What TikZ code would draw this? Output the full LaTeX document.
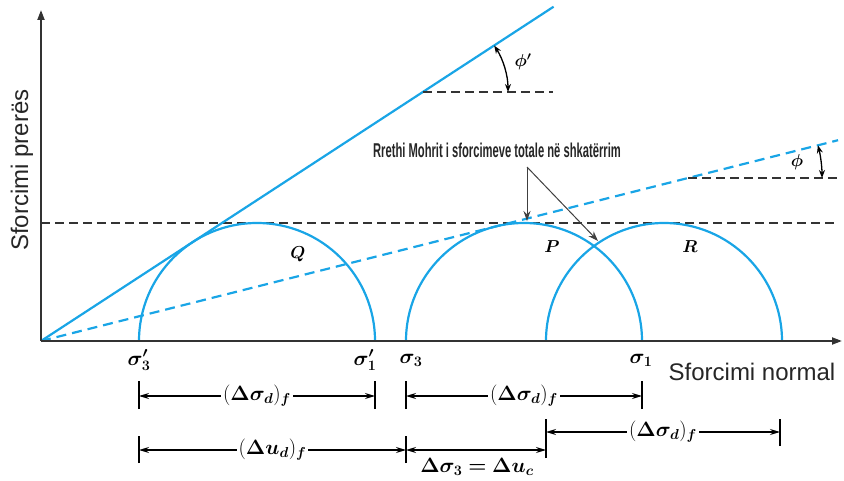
\documentclass[tikz,border=0pt]{standalone}
\usepackage{fontspec}
\setmainfont{Liberation Serif}
\newfontfamily\axisfont{Liberation Sans}
\usepackage{amsmath,bm,graphicx}
\usetikzlibrary{arrows.meta,calc}
\definecolor{mblue}{RGB}{25,165,230}
\definecolor{axisgray}{RGB}{50,50,50}
\begin{document}
\begin{tikzpicture}[x=1pt,y=1pt,
  axisline/.style={draw=axisgray,line width=2pt,-{Triangle[length=10pt,width=7pt]}},
  blackdash/.style={draw=black!80,line width=1.6pt,dash pattern=on 9pt off 5pt},
  bluesolid/.style={draw=mblue,line width=2.2pt},
  bluedash/.style={draw=mblue,line width=2.2pt,dash pattern=on 10pt off 6pt},
  mohr/.style={draw=mblue,line width=2.2pt},
  angarrow/.style={draw=black,line width=1.3pt,{Stealth[length=8pt,width=6pt]}-{Stealth[length=8pt,width=6pt]}},
  callout/.style={draw=black!75,line width=1pt,-{Stealth[length=10pt,width=7pt]}},
  dimline/.style={draw=black,line width=1.3pt,{Stealth[length=10pt,width=6pt]}-{Stealth[length=10pt,width=6pt]}},
  dimtick/.style={draw=black,line width=1.3pt},
  dimlabel/.style={fill=white,inner sep=2pt,font=\fontsize{20}{22}\selectfont},
  siglabel/.style={font=\fontsize{20}{22}\selectfont},
  circlabel/.style={font=\fontsize{18}{20}\selectfont},
  axlabel/.style={font=\axisfont\fontsize{24}{28}\selectfont,text=black!85}
]
\useasboundingbox (0,0) rectangle (844,480);
% axes
\coordinate (O) at (41,139);
\coordinate (Ytop) at (41,470);
\coordinate (Xend) at (842,139);
% dashed horizontal at circle tops
\coordinate (H1) at (41,257);
\coordinate (H2) at (838,257);
\draw[blackdash] (H1) -- (H2);
% Mohr circles
\coordinate (Q0) at (139,139);
\coordinate (P0) at (406,139);
\coordinate (R0) at (546,139);
\draw[mohr] (Q0) arc[start angle=180,end angle=0,radius=118];
\draw[mohr] (P0) arc[start angle=180,end angle=0,radius=118];
\draw[mohr] (R0) arc[start angle=180,end angle=0,radius=118];
% envelopes
\coordinate (Send) at ($(O)+(33.11:612)$);
\coordinate (Dend) at ($(O)+(14.14:822)$);
\draw[bluesolid] (O) -- (Send);
\draw[bluedash] (O) -- (Dend);
\draw[axisline] (O) -- (Ytop);
\draw[axisline] (O) -- (Xend);
% phi' angle
\coordinate (A1) at (423,388);
\coordinate (A1e) at (553,388);
\draw[blackdash] (A1) -- (A1e);
\draw[angarrow] ($(A1)+(0:85)$) arc[start angle=0,end angle=33.11,radius=85];
\node[circlabel] (phip) at (523,418) {$\bm{\phi'}$};
% phi angle
\coordinate (A2) at (688,302);
\coordinate (A2e) at (838,302);
\draw[blackdash] (A2) -- (A2e);
\draw[angarrow] ($(A2)+(0:134)$) arc[start angle=0,end angle=14.14,radius=134];
\node[circlabel] (phi) at (797,318) {$\bm{\phi}$};
% circle labels
\node[circlabel] (Q) at (298,226) {$\bm{Q}$};
\node[circlabel] (P) at (552,233) {$\bm{P}$};
\node[circlabel] (R) at (690,233) {$\bm{R}$};
% callout
\node[font=\axisfont\bfseries\fontsize{20}{22}\selectfont,text=black!85] (mohrtext) at (497,330)
  {\scalebox{0.56}[1]{Rrethi Mohrit i sforcimeve totale në shkatërrim}};
\coordinate (C0) at (527,313);
\coordinate (C1) at (527,259);
\coordinate (C2) at (598,239);
\draw[callout] (C0) -- (C1);
\draw[callout] (C0) -- (C2);
% sigma labels
\node[siglabel] (s3p) at (139,120) {$\bm{\sigma'_3}$};
\node[siglabel] (s1p) at (365,120) {$\bm{\sigma'_1}$};
\node[siglabel] (s3) at (411,120) {$\bm{\sigma_3}$};
\node[siglabel] (s1) at (641,120) {$\bm{\sigma_1}$};
% axis labels
\node[axlabel] (xlab) at (752,108) {Sforcimi normal};
\node[axlabel,rotate=90] (ylab) at (22,310) {Sforcimi prerës};
% dimension row 1
\coordinate (r1a) at (139,84); \coordinate (r1b) at (375,84);
\coordinate (r1c) at (406,84); \coordinate (r1d) at (642,84);
\draw[dimtick] (139,71) -- (139,99);
\draw[dimtick] (375,71) -- (375,99);
\draw[dimtick] (406,71) -- (406,99);
\draw[dimtick] (642,71) -- (642,99);
\draw[dimline] (r1a) -- node[dimlabel] (d1) {$(\bm{\Delta\sigma_d})_{\bm f}$} (r1b);
\draw[dimline] (r1c) -- node[dimlabel] (d2) {$(\bm{\Delta\sigma_d})_{\bm f}$} (r1d);
% dimension row 3 (upper right)
\coordinate (r3a) at (546,48); \coordinate (r3b) at (780,48);
\draw[dimtick] (546,22) -- (546,61);
\draw[dimtick] (780,34) -- (780,61);
\draw[dimline] (r3a) -- node[dimlabel] (d3) {$(\bm{\Delta\sigma_d})_{\bm f}$} (r3b);
% dimension row 2
\coordinate (r2a) at (139,30); \coordinate (r2b) at (406,30); \coordinate (r2c) at (546,30);
\draw[dimtick] (139,17) -- (139,44);
\draw[dimtick] (406,17) -- (406,44);
\draw[dimline] (r2a) -- node[dimlabel] (d4) {$(\bm{\Delta u_d})_{\bm f}$} (r2b);
\draw[dimline] (r2b) -- (r2c);
\node[dimlabel] (d5) at (477,13) {$\bm{\Delta\sigma_3 = \Delta u_c}$};
\end{tikzpicture}
\end{document}
